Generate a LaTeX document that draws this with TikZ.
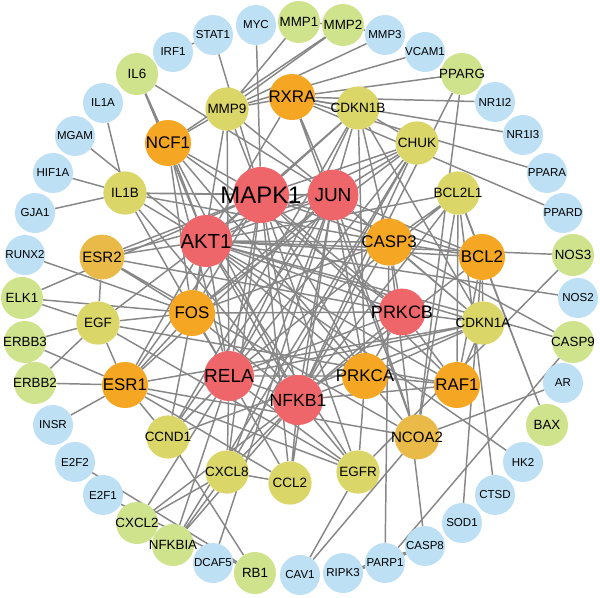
\documentclass[tikz,border=0pt]{standalone}
\usepackage{fontspec}
\setmainfont{Liberation Sans}
\usetikzlibrary{backgrounds}
\definecolor{geneblue}{RGB}{190,224,245}
\definecolor{genegreen}{RGB}{207,227,140}
\definecolor{geneyellow}{RGB}{219,214,104}
\definecolor{genegold}{RGB}{233,186,72}
\definecolor{geneorange}{RGB}{245,166,35}
\definecolor{genered}{RGB}{238,102,106}
\definecolor{edgegray}{RGB}{135,135,135}
\begin{document}
\begin{tikzpicture}[x=0.025cm, y=-0.025cm,
	gene/.style={circle, inner sep=0pt, text=black,
		execute at begin node={\hbox to 0pt\bgroup\hss},
		execute at end node={\hss\egroup}},
	bluegene/.style={gene, fill=geneblue, minimum size=1cm, font=\fontsize{8.2}{8.2}\selectfont},
	greengene/.style={gene, fill=genegreen, minimum size=1.05cm, font=\fontsize{9.5}{9.5}\selectfont},
	yellowgene/.style={gene, fill=geneyellow, minimum size=1.08cm, font=\fontsize{9.6}{9.6}\selectfont},
	goldgene/.style={gene, fill=genegold, minimum size=1.12cm, font=\fontsize{10.7}{10.7}\selectfont},
	orangegene/.style={gene, fill=geneorange, minimum size=1.15cm, font=\fontsize{12}{12}\selectfont},
	redgene/.style={gene, fill=genered, minimum size=1.25cm, font=\fontsize{13.5}{13.5}\selectfont},
	link/.style={draw=edgegray, line width=1.05pt}]
	\useasboundingbox (0,0) rectangle (600,598);

	% outer ring
	\node [bluegene] (MYC) at (256,25) {MYC};
	\node [greengene] (MMP1) at (299,22) {MMP1};
	\node [greengene] (MMP2) at (343,25) {MMP2};
	\node [bluegene] (MMP3) at (385,35) {MMP3};
	\node [bluegene] (VCAM1) at (425,52) {VCAM1};
	\node [greengene] (PPARG) at (462,74) {PPARG};
	\node [bluegene] (NR1I2) at (495,102) {NR1I2};
	\node [bluegene] (NR1I3) at (523,135) {NR1I3};
	\node [bluegene] (PPARA) at (547,173) {PPARA};
	\node [bluegene] (PPARD) at (563,213) {PPARD};
	\node [greengene] (NOS3) at (573,255) {NOS3};
	\node [bluegene] (NOS2) at (578,298) {NOS2};
	\node [greengene] (CASP9) at (573,342) {CASP9};
	\node [bluegene] (AR) at (563,383) {AR};
	\node [greengene] (BAX) at (547,425) {BAX};
	\node [bluegene] (HK2) at (523,462) {HK2};
	\node [bluegene] (CTSD) at (495,495) {CTSD};
	\node [bluegene] (SOD1) at (462,523) {SOD1};
	\node [bluegene] (CASP8) at (425,546) {CASP8};
	\node [bluegene] (PARP1) at (385,563) {PARP1};
	\node [bluegene] (RIPK3) at (343,573) {RIPK3};
	\node [bluegene] (CAV1) at (300,575) {CAV1};
	\node [greengene] (RB1) at (255,573) {RB1};
	\node [bluegene] (DCAF5) at (213,563) {DCAF5};
	\node [greengene] (NFKBIA) at (173,545) {NFKBIA};
	\node [greengene] (CXCL2) at (137,523) {CXCL2};
	\node [bluegene] (E2F1) at (103,495) {E2F1};
	\node [bluegene] (E2F2) at (75,462) {E2F2};
	\node [bluegene] (INSR) at (53,425) {INSR};
	\node [greengene] (ERBB2) at (35,383) {ERBB2};
	\node [greengene] (ERBB3) at (25,342) {ERBB3};
	\node [greengene] (ELK1) at (22,298) {ELK1};
	\node [bluegene] (RUNX2) at (25,255) {RUNX2};
	\node [bluegene] (GJA1) at (35,213) {GJA1};
	\node [bluegene] (HIF1A) at (53,173) {HIF1A};
	\node [bluegene] (MGAM) at (75,136) {MGAM};
	\node [bluegene] (IL1A) at (103,103) {IL1A};
	\node [greengene] (IL6) at (137,74) {IL6};
	\node [bluegene] (IRF1) at (173,52) {IRF1};
	\node [bluegene] (STAT1) at (213,35) {STAT1};

	% middle ring
	\node [yellowgene] (MMP9) at (227,109) {MMP9};
	\node [orangegene] (RXRA) at (292,97) {RXRA};
	\node [yellowgene] (CDKN1B) at (358,108) {CDKN1B};
	\node [yellowgene] (CHUK) at (417,143) {CHUK};
	\node [yellowgene] (BCL2L1) at (458,193) {BCL2L1};
	\node [orangegene] (BCL2) at (482,257) {BCL2};
	\node [yellowgene] (CDKN1A) at (483,323) {CDKN1A};
	\node [orangegene] (RAF1) at (457,385) {RAF1};
	\node [goldgene] (NCOA2) at (417,437) {NCOA2};
	\node [yellowgene] (EGFR) at (358,472) {EGFR};
	\node [yellowgene] (CCL2) at (290,483) {CCL2};
	\node [yellowgene] (CXCL8) at (227,472) {CXCL8};
	\node [yellowgene] (CCND1) at (168,437) {CCND1};
	\node [orangegene] (ESR1) at (125,385) {ESR1};
	\node [yellowgene] (EGF) at (98,323) {EGF};
	\node [goldgene] (ESR2) at (102,257) {ESR2};
	\node [yellowgene] (IL1B) at (125,193) {IL1B};
	\node [orangegene] (NCF1) at (168,143) {NCF1};

	% core
	\node [redgene, minimum size=1.4cm, font=\fontsize{17}{17}\selectfont] (MAPK1) at (261,195) {MAPK1};
	\node [redgene, minimum size=1.27cm] (JUN) at (333,195) {JUN};
	\node [redgene, minimum size=1.3cm, font=\fontsize{14.5}{14.5}\selectfont] (AKT1) at (206,241) {AKT1};
	\node [orangegene, minimum size=1.18cm] (CASP3) at (389,242) {CASP3};
	\node [orangegene] (FOS) at (192,313) {FOS};
	\node [redgene, minimum size=1.17cm, font=\fontsize{12.8}{12.8}\selectfont] (PRKCB) at (402,312) {PRKCB};
	\node [redgene] (RELA) at (229,376) {RELA};
	\node [redgene, font=\fontsize{12.5}{12.5}\selectfont] (NFKB1) at (298,400) {NFKB1};
	\node [orangegene] (PRKCA) at (365,376) {PRKCA};

	\begin{pgfonlayer}{background}
	% outer ring links
	\draw [link] (MYC) -- (MAPK1) (STAT1) -- (IRF1) (STAT1) -- (MAPK1);
	\draw [link] (IL6) -- (NCF1) (IL6) -- (AKT1) (IL6) -- (JUN) (IL1A) -- (IL1B);
	\draw [link] (MGAM) -- (AKT1) (HIF1A) -- (IL1B) (GJA1) -- (IL1B) (RUNX2) -- (FOS);
	\draw [link] (ELK1) -- (MAPK1) (ELK1) -- (FOS) (ELK1) -- (EGF);
	\draw [link] (ERBB3) -- (EGF) (ERBB3) -- (ESR1) (ERBB3) -- (ERBB2) (ERBB2) -- (EGF) (ERBB2) -- (ESR1);
	\draw [link] (INSR) -- (ESR1) (E2F2) -- (RB1) (E2F1) -- (RB1);
	\draw [link] (CXCL2) -- (CXCL8) (CXCL2) -- (RELA) (CXCL2) -- (NFKB1);
	\draw [link] (NFKBIA) -- (CXCL8) (NFKBIA) -- (NFKB1) (NFKBIA) -- (RELA) (NFKBIA) -- (CHUK);
	\draw [link] (DCAF5) -- (JUN) (RB1) -- (CCND1) (CAV1) -- (EGFR) (CAV1) -- (NCOA2);
	\draw [link] (RIPK3) -- (PARP1) (RIPK3) -- (CASP8) (PARP1) -- (CASP8) (PARP1) -- (CASP3) (PARP1) -- (CASP9);
	\draw [link] (CASP8) -- (CASP3) (SOD1) -- (BCL2) (CTSD) -- (BCL2L1) (HK2) -- (AKT1);
	\draw [link] (BAX) -- (BCL2) (BAX) -- (BCL2L1) (AR) -- (NCOA2);
	\draw [link] (CASP9) -- (CASP3) (CASP9) -- (AKT1) (NOS2) -- (AKT1) (NOS3) -- (AKT1) (NOS3) -- (EGFR);
	\draw [link] (PPARD) -- (RXRA) (PPARA) -- (RXRA) (NR1I3) -- (RXRA) (NR1I2) -- (RXRA);
	\draw [link] (PPARG) -- (RXRA) (PPARG) -- (NCOA2) (PPARG) -- (NFKB1);
	\draw [link] (VCAM1) -- (MMP9) (MMP3) -- (MMP9) (MMP3) -- (MMP2) (MMP2) -- (MMP9) (MMP2) -- (MMP1);
	\draw [link] (MMP1) -- (MMP9) (MMP2) -- (NCF1);
	% middle ring links
	\draw [link] (MMP9) -- (NCF1) (MMP9) -- (RXRA) (MMP9) -- (MAPK1) (MMP9) -- (JUN) (MMP9) -- (FOS) (MMP9) -- (RELA);
	\draw [link] (RXRA) -- (JUN) (RXRA) -- (CDKN1B) (RXRA) -- (NCOA2) (RXRA) -- (AKT1);
	\draw [link] (NCF1) -- (MAPK1) (NCF1) -- (AKT1) (NCF1) -- (RELA) (NCF1) -- (NFKB1) (NCF1) -- (PRKCB) (NCF1) -- (PRKCA) (NCF1) -- (FOS);
	\draw [link] (IL1B) -- (MAPK1) (IL1B) -- (JUN) (IL1B) -- (NFKB1) (IL1B) -- (RELA) (IL1B) -- (CASP3) (IL1B) -- (AKT1);
	\draw [link] (ESR2) -- (EGF) (ESR2) -- (FOS) (ESR2) -- (AKT1) (ESR2) -- (MAPK1) (ESR2) -- (JUN) (ESR2) -- (NCOA2) (ESR2) -- (PRKCB);
	\draw [link] (EGF) -- (FOS) (EGF) -- (ESR1) (EGF) -- (EGFR) (EGF) -- (RAF1) (EGF) -- (AKT1);
	\draw [link] (ESR1) -- (FOS) (ESR1) -- (NCOA2) (ESR1) -- (CCND1) (ESR1) -- (AKT1) (ESR1) -- (JUN) (ESR1) -- (MAPK1);
	\draw [link] (ESR1) -- (EGFR) (ESR1) -- (CCL2) (ESR1) -- (CDKN1A);
	\draw [link] (CCND1) -- (JUN) (CCND1) -- (AKT1) (CCND1) -- (CDKN1A) (CCND1) -- (CDKN1B) (CCND1) -- (RELA) (CCND1) -- (FOS);
	\draw [link] (CXCL8) -- (CCL2) (CXCL8) -- (NFKB1) (CXCL8) -- (RELA) (CXCL8) -- (MAPK1) (CXCL8) -- (JUN) (CXCL8) -- (CHUK);
	\draw [link] (CCL2) -- (NFKB1) (CCL2) -- (RELA) (CCL2) -- (JUN) (CCL2) -- (MAPK1);
	\draw [link] (EGFR) -- (AKT1) (EGFR) -- (RELA) (EGFR) -- (NFKB1) (EGFR) -- (MAPK1) (EGFR) -- (PRKCA);
	\draw [link] (NCOA2) -- (PRKCA) (NCOA2) -- (JUN);
	\draw [link] (RAF1) -- (PRKCA) (RAF1) -- (PRKCB) (RAF1) -- (MAPK1) (RAF1) -- (AKT1) (RAF1) -- (BCL2) (RAF1) -- (CDKN1A);
	\draw [link] (RAF1) -- (BCL2L1) (RAF1) -- (NFKB1);
	\draw [link] (CDKN1A) -- (PRKCB) (CDKN1A) -- (CASP3) (CDKN1A) -- (AKT1) (CDKN1A) -- (JUN) (CDKN1A) -- (PRKCA);
	\draw [link] (CDKN1A) -- (CDKN1B) (CDKN1A) -- (BCL2) (CDKN1A) -- (RELA);
	\draw [link] (BCL2) -- (BCL2L1) (BCL2) -- (CASP3) (BCL2) -- (AKT1) (BCL2) -- (JUN) (BCL2) -- (NFKB1) (BCL2) -- (MAPK1);
	\draw [link] (BCL2L1) -- (AKT1) (BCL2L1) -- (CASP3) (BCL2L1) -- (NCOA2) (BCL2L1) -- (NFKB1) (BCL2L1) -- (RELA);
	\draw [link] (CHUK) -- (NFKB1) (CHUK) -- (RELA) (CHUK) -- (AKT1) (CHUK) -- (FOS) (CHUK) -- (MAPK1) (CHUK) -- (JUN) (CHUK) -- (CDKN1B);
	\draw [link] (CDKN1B) -- (AKT1) (CDKN1B) -- (MAPK1) (CDKN1B) -- (JUN) (CDKN1B) -- (CASP3) (CDKN1B) -- (RELA) (CDKN1B) -- (PRKCA);
	% core links
	\draw [link] (MAPK1) -- (JUN) (MAPK1) -- (AKT1) (MAPK1) -- (FOS) (MAPK1) -- (RELA) (MAPK1) -- (NFKB1);
	\draw [link] (MAPK1) -- (PRKCB) (MAPK1) -- (PRKCA) (MAPK1) -- (CASP3);
	\draw [link] (JUN) -- (AKT1) (JUN) -- (FOS) (JUN) -- (RELA) (JUN) -- (NFKB1) (JUN) -- (CASP3) (JUN) -- (PRKCA);
	\draw [link] (AKT1) -- (RELA) (AKT1) -- (NFKB1) (AKT1) -- (PRKCB) (AKT1) -- (CASP3) (AKT1) -- (PRKCA);
	\draw [link] (FOS) -- (PRKCB) (FOS) -- (RELA) (FOS) -- (NFKB1) (FOS) -- (CASP3);
	\draw [link] (RELA) -- (NFKB1) (RELA) -- (PRKCB) (RELA) -- (PRKCA);
	\draw [link] (NFKB1) -- (PRKCB) (NFKB1) -- (PRKCA) (NFKB1) -- (CASP3) (PRKCB) -- (PRKCA) (PRKCB) -- (CASP3);
	\end{pgfonlayer}
\end{tikzpicture}
\end{document}
